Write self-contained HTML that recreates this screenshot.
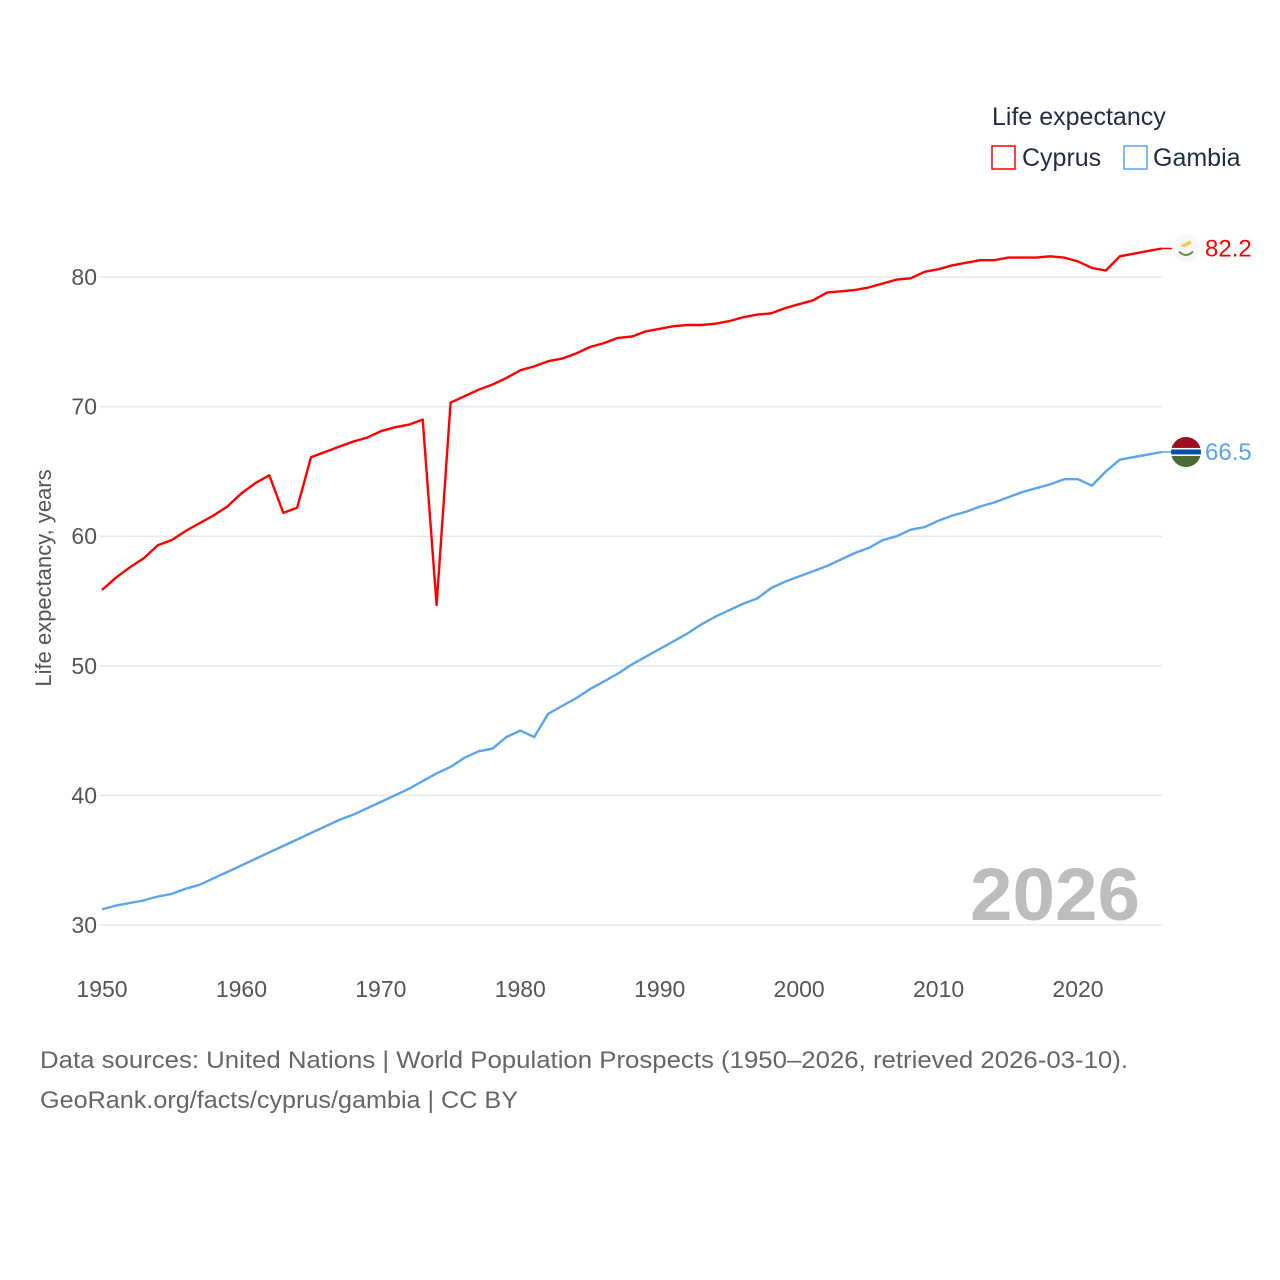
<!DOCTYPE html>
<html><head><meta charset="utf-8"><style>
html,body{margin:0;padding:0;background:#fff;}
svg{display:block;font-family:"Liberation Sans",sans-serif;}
</style></head><body>
<svg id="chart" width="1280" height="1280">
<text x="992" y="125" font-size="25" fill="#1f2d45">Life expectancy</text>
<g>
<rect x="992" y="146" width="23" height="23" fill="none" stroke="#ff0000" stroke-width="1.5"/>
<text x="1022" y="166" font-size="25" fill="#1f2d45">Cyprus</text></g>
<g>
<rect x="1124" y="146" width="23" height="23" fill="none" stroke="#5ba4ee" stroke-width="1.5"/>
<text x="1153" y="166" font-size="25" fill="#1f2d45">Gambia</text></g>
<text transform="translate(51,578) rotate(-90)" text-anchor="middle" font-size="22" fill="#555">Life expectancy, years</text>
<text x="1140" y="920" text-anchor="end" font-size="74" font-weight="bold" fill="#bdbdbd" textLength="170" lengthAdjust="spacingAndGlyphs">2026</text>
<text x="40" y="1068" font-size="24" fill="#666" textLength="1088" lengthAdjust="spacingAndGlyphs">Data sources: United Nations | World Population Prospects (1950–2026, retrieved 2026-03-10).</text>
<text x="40" y="1108" font-size="24" fill="#666" textLength="478" lengthAdjust="spacingAndGlyphs">GeoRank.org/facts/cyprus/gambia | CC BY</text>
<g id="grid"></g><g id="series"></g>
</svg>
<script>
const yTicks=[30,40,50,60,70,80];
const xTicks=[1950,1960,1970,1980,1990,2000,2010,2020];
const startYear=1950;
const cyprus=[55.85,56.8,57.6,58.3,59.3,59.7,60.4,61.0,61.6,62.3,63.3,64.1,64.7,61.8,62.2,66.1,66.5,66.9,67.3,67.6,68.1,68.4,68.6,69.0,54.7,70.3,70.8,71.3,71.7,72.2,72.8,73.1,73.5,73.7,74.1,74.6,74.9,75.3,75.4,75.8,76.0,76.2,76.3,76.3,76.4,76.6,76.9,77.1,77.2,77.6,77.9,78.2,78.8,78.9,79.0,79.2,79.5,79.8,79.9,80.4,80.6,80.9,81.1,81.3,81.3,81.5,81.5,81.5,81.6,81.5,81.2,80.7,80.5,81.6,81.8,82.0,82.2];
const gambia=[31.2,31.5,31.7,31.9,32.2,32.4,32.8,33.1,33.6,34.1,34.6,35.1,35.6,36.1,36.6,37.1,37.6,38.1,38.5,39.0,39.5,40.0,40.5,41.1,41.7,42.2,42.9,43.4,43.6,44.5,45.0,44.5,46.3,46.9,47.5,48.2,48.8,49.4,50.1,50.7,51.3,51.9,52.5,53.2,53.8,54.3,54.8,55.2,56.0,56.5,56.9,57.3,57.7,58.2,58.7,59.1,59.7,60.0,60.5,60.7,61.2,61.6,61.9,62.3,62.6,63.0,63.4,63.7,64.0,64.4,64.4,63.9,65.0,65.9,66.1,66.3,66.5];
const NS="http://www.w3.org/2000/svg";
const x=yr=>102+(yr-1950)*(976/70);
const y=v=>277+(80-v)*12.96;
function mk(t,a,p){const e=document.createElementNS(NS,t);for(const k in a)e.setAttribute(k,a[k]);p.appendChild(e);return e;}
const grid=document.getElementById('grid'),ser=document.getElementById('series');
yTicks.forEach(v=>{
 const l=mk('line',{x1:100,x2:1162,y1:y(v),y2:y(v),stroke:'#e8e8e8','stroke-width':1.5},grid);
 
 
 const t=mk('text',{x:97,y:y(v)+8,'text-anchor':'end','font-size':23,fill:'#555'},grid);t.textContent=v;
 
 
});
xTicks.forEach(v=>{
 const t=mk('text',{x:x(v),y:997,'text-anchor':'middle','font-size':23,fill:'#555'},grid);t.textContent=v;
 
 
});
function line(data,color,name){
 const d=data.map((v,i)=>(i?'L':'M')+x(startYear+i).toFixed(1)+','+y(v).toFixed(1)).join('');
 const p=mk('path',{d:d,fill:'none',stroke:color,'stroke-width':2.4,'stroke-linejoin':'round'},ser);
 
 
 const last=data[data.length-1],ly=y(last),lx=x(startYear+data.length-1);
 mk('line',{x1:lx,x2:1175,y1:ly,y2:ly,stroke:color,'stroke-width':1.5},ser);
 const t=mk('text',{x:1205,y:ly+8,'font-size':24,fill:color},ser);t.textContent=last.toFixed(1);
 
 
 return ly;
}
const cy=line(cyprus,'#ff0000','cyprus');
const gy=line(gambia,'#5ba4ee','gambia');
const f1=mk('g',{},ser);


mk('circle',{cx:1186,cy:cy,r:14,fill:'#f7f7f7'},f1);
mk('path',{d:`M1180,${cy-3} l10,-5 l2,3 l-8,4z`,fill:'#f2c94c'},f1);
mk('path',{d:`M1179,${cy+3} q7,7 14,0`,fill:'none',stroke:'#6b8e4e','stroke-width':2},f1);
const f2=mk('g',{},ser);


mk('clipPath',{id:'gc'},f2);
mk('circle',{cx:1186,cy:gy,r:15},document.getElementById('gc'));
const gg=mk('g',{'clip-path':'url(#gc)'},f2);
mk('rect',{x:1171,y:gy-15,width:30,height:11,fill:'#9b0d1f'},gg);
mk('rect',{x:1171,y:gy-4,width:30,height:1.5,fill:'#fff'},gg);
mk('rect',{x:1171,y:gy-2.5,width:30,height:5,fill:'#0a4fa6'},gg);
mk('rect',{x:1171,y:gy+2.5,width:30,height:1.5,fill:'#fff'},gg);
mk('rect',{x:1171,y:gy+4,width:30,height:11,fill:'#4a6b2f'},gg);
</script>
</body></html>
